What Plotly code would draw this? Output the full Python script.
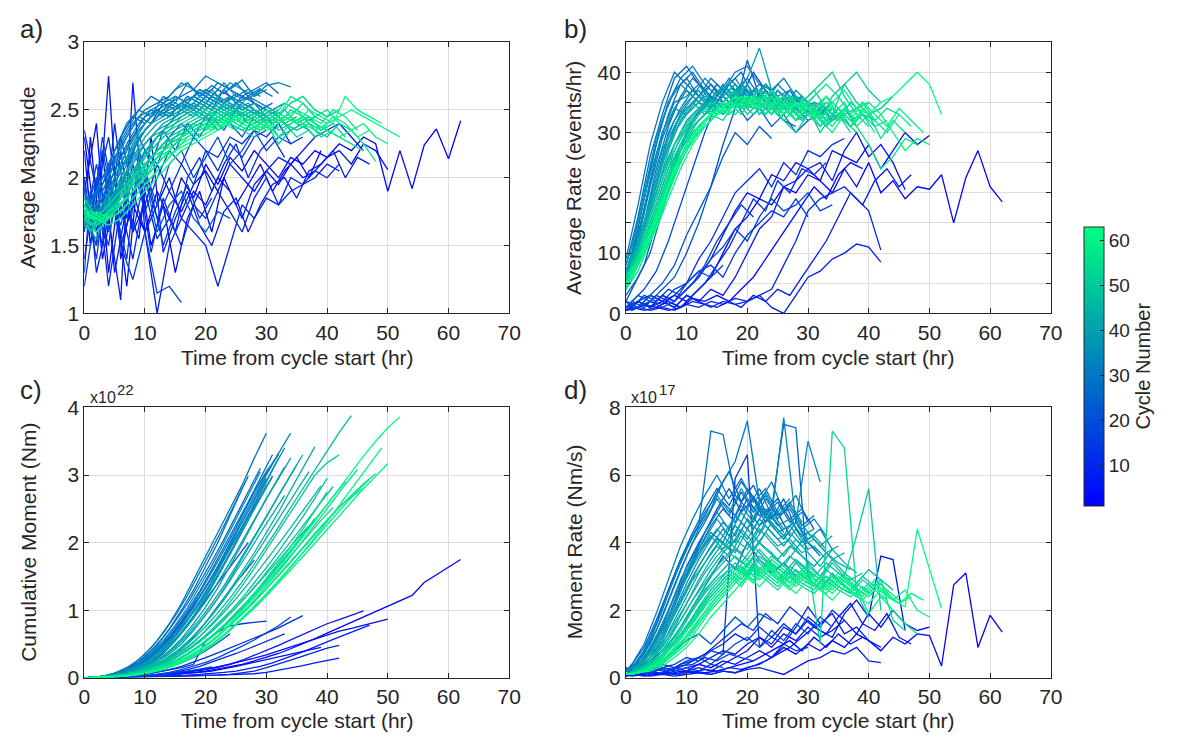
import plotly.graph_objects as go

# ---------------- data ----------------
# sample times (hr) for even-numbered and odd-numbered cycles
HOURS_EVEN = [0, 2, 4, 6, 8, 10, 12, 14, 16, 18, 20, 22, 24, 26, 28, 30, 32,
              34, 36, 38, 40, 42, 44, 46, 48, 50, 52, 54, 56, 58, 60, 62, 64]
HOURS_ODD = [0, 1, 3, 5, 7, 9, 11, 13, 15, 17, 19, 21, 23, 25, 27, 29, 31,
             33, 35, 37, 39, 41, 43, 45, 47, 49, 51, 53, 55, 57, 59, 61, 63]

CYCLES_EVEN = [2, 4, 6, 8, 10, 12, 14, 16, 18, 20, 22, 24,
               26, 28, 30, 32, 34, 36, 38, 40, 42, 44,
               46, 48, 50, 52, 54, 56, 58, 60, 63]
CYCLES_ODD = [3, 7, 11, 15, 19, 23,
              27, 29, 31, 33, 35, 37, 39, 41, 43, 45,
              47, 49, 51, 53, 55, 57, 59, 61]

# a) Average magnitude
MAG_EVEN = [
    [2.3,1.6,2.0,1.5,1.8,1.6,1.9,1.7,2.0,1.85,2.1,1.95,2.15,2.05,2.2,2.1,2.0,2.15,2.1,2.2,2.15,2.25,2.2,2.3,2.25,1.9,2.2,1.92,2.24,2.36,2.14,2.42],
    [1.9,2.4,1.3,2.0,1.6,1.8,2.1,1.9,1.75,1.95,2.05,1.9,2.1,2.0,1.9,2.05,1.95,2.1,2.0,2.05,2.15,2.2,2.1,2.25,2.2,2.06],
    [1.7,1.5,2.75,1.4,1.9,1.6,1.8,2.0,1.7,1.9,1.8,2.0,1.9,1.7,1.95,2.05,2.15,2.1,2.2,2.3,2.35,2.4,2.3,2.2],
    [2.2,1.3,1.7,1.1,2.7,1.6,1.0,1.5,1.7,1.6,1.5,1.2,1.5,1.8,1.7,1.85,1.8,1.9,1.95,2.0,2.1,2.05],
    [1.4,2.0,1.2,1.8,1.4,1.9,1.55,1.7,1.5,1.8,1.7,1.9,1.75,1.6,1.85,2.0,1.8,2.0,1.95,2.05,2.0,2.1],
    [2.35,1.9,2.3,1.7,2.1,1.75,2.0,2.2,2.1,2.3,2.2,2.15,2.3,2.25,2.35,2.3,2.4,2.25,2.3],
    [1.2,1.8,1.5,2.2,1.6,2.0,1.7,1.9,2.1,1.95,2.2,2.05,2.25,2.15,2.3,2.35],
    [1.9,1.4,2.1,1.5,1.25,1.6,1.15,1.2,1.08],
    [1.6,2.1,1.7,2.3,1.9,2.05,1.8,2.1,2.2,2.0,2.15,2.3,2.1,2.2,2.35,2.2,2.3,2.25],
    [1.8,1.5,1.9,1.65,2.0,2.2,2.1,2.3,2.4,2.3,2.45,2.35,2.4,2.3,2.45],
    [1.7,2.0,1.6,1.9,2.2,2.0,1.6,1.8,1.9,1.7,1.6,1.75,1.7],
    [1.75,1.9,2.1,2.3,2.45,2.4,2.5,2.45,2.55,2.5,2.6,2.55,2.5,2.6,2.55,2.5],
    [1.9,1.75,1.95,2.15,2.3,2.45,2.5,2.55,2.6,2.65,2.6,2.7,2.65,2.6,2.65,2.7,2.62],
    [1.85,1.7,1.9,2.1,2.3,2.4,2.5,2.45,2.55,2.6,2.55,2.65,2.6,2.55],
    [1.7,1.8,2.0,2.25,2.4,2.5,2.55,2.6,2.7,2.65,2.75,2.7,2.65,2.72,2.6,2.65],
    [1.8,1.65,1.85,2.05,2.2,2.35,2.45,2.5,2.55,2.5,2.6,2.55,2.6,2.5,2.55,2.5,2.45],
    [1.75,1.6,1.8,2.0,2.2,2.35,2.45,2.55,2.5,2.6,2.65,2.6,2.7,2.65,2.6,2.68,2.7,2.67],
    [1.9,1.7,1.85,2.05,2.25,2.4,2.5,2.45,2.55,2.6,2.55,2.5,2.6,2.55,2.5,2.45,2.5],
    [1.65,1.55,1.75,1.95,2.15,2.3,2.4,2.45,2.5,2.55,2.5,2.6,2.55,2.5,2.55,2.5],
    [1.8,1.7,1.8,1.95,2.1,2.25,2.35,2.4,2.5,2.45,2.55,2.5,2.45,2.55,2.5,2.45,2.4,2.45],
    [1.7,1.65,1.75,1.9,2.05,2.2,2.3,2.4,2.45,2.5,2.45,2.55,2.5,2.45,2.5,2.4,2.45,2.35,2.4],
    [1.85,1.7,1.75,1.85,2.0,2.15,2.3,2.35,2.45,2.5,2.45,2.5,2.55,2.45,2.5,2.4,2.45,2.35,2.4,2.45],
    [1.75,1.6,1.7,1.85,2.0,2.1,2.2,2.3,2.35,2.4,2.45,2.4,2.5,2.45,2.4,2.45,2.35,2.4,2.45,2.35,2.3,2.4,2.35],
    [1.8,1.7,1.75,1.8,1.9,2.05,2.15,2.25,2.3,2.35,2.4,2.45,2.4,2.35,2.4,2.45,2.3,2.35,2.4,2.3,2.35],
    [1.7,1.65,1.7,1.85,1.95,2.1,2.2,2.25,2.35,2.4,2.45,2.5,2.45,2.4,2.45,2.5,2.45,2.55,2.6,2.5,2.45,2.5],
    [1.75,1.6,1.7,1.8,1.95,2.05,2.15,2.25,2.3,2.4,2.35,2.45,2.4,2.35,2.3,2.4,2.25,2.35,2.4,2.3],
    [1.85,1.7,1.8,1.9,2.0,2.15,2.25,2.35,2.4,2.45,2.5,2.45,2.5,2.4,2.45,2.5,2.4,2.45,2.55,2.45,2.4],
    [1.65,1.6,1.7,1.8,1.9,2.0,2.15,2.2,2.3,2.35,2.4,2.35,2.45,2.4,2.35,2.45,2.4,2.5,2.45,2.4,2.35,2.3,2.25,2.2],
    [1.8,1.65,1.7,1.8,1.9,2.0,2.1,2.2,2.3,2.35,2.4,2.45,2.4,2.5,2.45,2.4,2.45,2.6,2.55,2.45,2.5,2.4,2.35,2.25,2.12],
    [1.7,1.75,1.7,1.75,1.85,1.95,2.05,2.15,2.25,2.3,2.35,2.4,2.45,2.4,2.35,2.4,2.3,2.4,2.45,2.4,2.35,2.3,2.35,2.4,2.3,2.25],
    [1.75,1.7,1.65,1.7,1.8,1.9,2.0,2.1,2.2,2.25,2.3,2.35,2.4,2.45,2.4,2.35,2.4,2.45,2.4,2.35,2.4,2.45,2.5,2.45,2.4,2.35,2.3],
]
MAG_ODD = [
    [1.6,2.3,1.4,1.9,1.2,2.1,1.5,1.8,1.3,1.7,1.9,1.6,2.0,1.8,1.95,2.1,1.9,2.05,2.15,2.0,2.2],
    [2.0,1.5,2.2,1.3,1.8,1.55,2.3,1.45,1.7,1.9,1.65,1.5,1.75,1.85,1.6,1.8,1.95,2.0,1.85,2.05,2.1,2.2,2.0,2.15,2.1],
    [1.3,1.9,1.5,2.4,1.7,2.0,1.45,1.85,1.6,2.0,2.15,1.9,2.1,2.25,2.0,2.2,2.3,2.15],
    [2.0,1.6,2.3,1.8,1.4,2.2,1.9,1.5,1.75,1.95,1.7,1.85],
    [1.9,1.7,2.2,1.8,2.05,2.3,2.1,2.35,2.2,2.4,2.3,2.45,2.35,2.5,2.4],
    [1.7,1.85,1.95,2.15,2.3,2.45,2.4,2.55,2.5,2.6,2.55,2.5,2.65,2.55,2.6,2.5,2.55],
    [1.85,1.8,1.95,2.2,2.4,2.5,2.6,2.55,2.65,2.7,2.6,2.68,2.62,2.7,2.6,2.66],
    [1.75,1.7,1.85,2.05,2.25,2.4,2.5,2.45,2.6,2.55,2.65,2.6,2.55,2.62,2.58,2.65,2.6],
    [1.9,1.8,2.0,2.2,2.35,2.5,2.45,2.6,2.55,2.7,2.6,2.65,2.55,2.6,2.58],
    [1.7,1.65,1.8,2.0,2.15,2.3,2.4,2.5,2.45,2.55,2.5,2.6,2.55,2.5,2.6,2.55,2.5,2.55],
    [1.8,1.7,1.9,2.1,2.3,2.45,2.5,2.55,2.6,2.55,2.65,2.6,2.7,2.6,2.65,2.6],
    [1.75,1.6,1.8,2.0,2.2,2.35,2.45,2.5,2.55,2.5,2.6,2.55,2.5,2.55,2.5,2.45,2.5],
    [1.85,1.7,1.8,1.95,2.15,2.3,2.4,2.45,2.5,2.55,2.5,2.45,2.55,2.5,2.45,2.5,2.4,2.45],
    [1.7,1.6,1.75,1.9,2.05,2.2,2.3,2.4,2.45,2.5,2.55,2.5,2.45,2.5,2.55,2.45,2.5,2.4,2.45],
    [1.8,1.7,1.75,1.9,2.05,2.2,2.3,2.35,2.45,2.5,2.45,2.55,2.5,2.45,2.5,2.45,2.4,2.45],
    [1.75,1.65,1.7,1.85,2.0,2.1,2.25,2.35,2.4,2.45,2.5,2.45,2.55,2.5,2.45,2.5,2.4,2.45,2.4,2.35],
    [1.8,1.7,1.75,1.85,1.95,2.1,2.2,2.3,2.35,2.4,2.45,2.4,2.45,2.5,2.45,2.4,2.45,2.4,2.35,2.4,2.35],
    [1.7,1.6,1.7,1.8,1.95,2.05,2.15,2.25,2.3,2.35,2.4,2.45,2.4,2.5,2.45,2.4,2.45,2.5,2.4,2.45,2.35,2.4],
    [1.75,1.7,1.72,1.8,1.9,2.0,2.15,2.25,2.3,2.35,2.4,2.45,2.4,2.35,2.45,2.4,2.35,2.4,2.3,2.35],
    [1.8,1.65,1.7,1.8,1.9,2.05,2.15,2.2,2.3,2.35,2.4,2.45,2.5,2.45,2.4,2.45,2.5,2.45,2.4,2.45,2.35,2.4,2.3],
    [1.7,1.65,1.7,1.75,1.85,1.95,2.1,2.2,2.25,2.35,2.4,2.35,2.45,2.4,2.35,2.4,2.45,2.4,2.35,2.4,2.3,2.35],
    [1.75,1.7,1.68,1.75,1.85,1.95,2.05,2.15,2.25,2.3,2.35,2.4,2.45,2.4,2.35,2.4,2.45,2.55,2.5,2.45,2.4,2.5,2.45,2.35],
    [1.8,1.7,1.7,1.78,1.85,1.95,2.05,2.15,2.2,2.3,2.35,2.4,2.38,2.45,2.4,2.35,2.4,2.45,2.5,2.4,2.35,2.45,2.4,2.3,2.35],
    [1.7,1.75,1.7,1.72,1.8,1.9,2.0,2.1,2.2,2.25,2.3,2.35,2.4,2.45,2.4,2.35,2.4,2.45,2.4,2.5,2.45,2.4,2.6,2.5,2.45,2.4],
]

# b) Average rate (events/hr)
RATE_EVEN = [
    [0.5,1,2,1.5,3,2,4,6,10,14,16,19,18,21,20,23,22,20,24,21,25,20,22,19,21,20.6,23,15,22.5,27,21,18.5],
    [1,2,1,3,2,4,6,9,13,17,20,19,23,22,25,24,22,27,26,25,28,24,27,30,28,29.5],
    [2,1,3,2,1,3,2,4,3,6,10,14,16,21,22,24,25,22,27,30,26,28,25,20.5],
    [0.5,1,0.5,1,0.5,1.5,1,2,1.5,2.5,2,3,1,0,3,6,7,9,10,11.5,11,8.5],
    [1,2,1,2,1,3,2,1,2,1.5,2,3,4,8,12,17,19,20,21,19,17,10.5],
    [0.5,2,1,3,2,5,9,12,16,20,22,24,21,25,23,27,26,28,29],
    [1,2,1,2,3,5,7,8,6,10,13,15,17,16,19,16],
    [1,2,3,2,4,5,7,6,8],
    [0.5,1,2,1,2,4,6,9,11,14,12,16,19,17,18,20,17,18],
    [1,3,2,4,6,10,15,21,28,34,42,36,34,32,31],
    [2,1,3,5,8,13,17,21,26,30,28,31,29],
    [3,6,10,17,24,30,33,36,34,35,32,34,31,33,30,32],
    [8,16,26,33,39,41,38,36,35,37,34,36,35,33,35,34,32],
    [6,14,24,32,37,39,36,38,35,37,39,36,34,35],
    [9,18,28,35,40,38,36,39,37,40,41,38,37,39,36,35],
    [5,12,21,29,34,37,35,38,36,34,37,35,33,36,34,32,33],
    [7,13,22,30,35,36,38,35,37,39,36,38,36,34,37,35,33,34],
    [6,11,19,27,32,35,37,34,36,38,35,37,34,36,33,35,34],
    [8,15,23,30,34,33,36,34,38,35,37,33,35,34,32,33],
    [5,10,18,25,31,34,36,35,38,36,39,44,37,35,36,34,33,35],
    [7,12,18,25,30,33,35,34,36,38,35,37,36,34,35,33,34,32,33],
    [6,11,17,23,28,32,34,35,33,36,38,35,37,34,36,33,35,32,34,31],
    [5,9,15,21,27,31,33,35,34,36,35,37,34,36,33,35,32,36,38,35,33,34,36],
    [4,8,13,19,25,29,32,34,33,35,36,34,36,33,35,34,32,35,33,34,35],
    [6,10,16,22,28,31,34,33,35,37,34,36,35,33,36,34,30,33,38,40,37,35],
    [5,8,14,20,26,30,33,35,34,36,33,35,34,32,30,33,31,34,32,30],
    [4,9,14,20,25,29,31,33,35,34,36,33,35,32,34,36,38,40,36,33,31],
    [5,8,12,18,23,28,31,33,32,35,34,36,33,35,32,34,31,33,35,31,33,29,32,30],
    [4,7,12,17,23,27,30,33,34,33,35,37,34,36,33,35,32,30,33,31,28,24,26,29,28],
    [6,9,14,19,24,28,31,33,35,34,36,35,37,34,32,35,33,31,34,32,35,33,30,27,29,28],
    [5,8,13,18,24,28,31,33,34,36,35,34,36,33,35,34,32,35,37,34,33,35,36,38,40,38,33],
]
RATE_ODD = [
    [1,0.5,1.5,1,2,1,2.5,2,3,2,4,6,9,12,15,18,21,19,23,25,24],
    [0.5,1,0.5,1,0.5,1,2,1.5,1,2,1,3,2,4,3,6,9,12,16,20,18,22,24,21,23],
    [1,2,1,3,2,1,3,5,8,11,15,19,17,22,20,24,23,25],
    [2,1,3,2,4,3,5,8,12,15,18,16],
    [1,2,4,7,12,18,24,30,35,38,36,40,37,35,36],
    [2,4,8,15,22,28,32,35,38,36,34,37,35,33,36,34,35],
    [6,9,17,26,33,38,40,37,35,38,36,34,37,35,34,36],
    [5,8,15,24,31,36,39,37,35,38,40,36,38,35,37,34,36],
    [7,10,19,28,35,39,41,38,36,39,37,35,38,36,37],
    [5,7,14,22,30,34,37,35,38,36,34,37,35,38,36,34,33,35],
    [8,11,20,29,35,38,36,39,37,35,38,36,34,37,35,36],
    [5,8,14,21,28,33,36,34,37,35,38,36,34,37,35,33,34],
    [6,9,15,22,29,33,35,37,34,36,38,35,37,34,36,33,35,34],
    [4,7,13,20,27,32,35,33,36,38,35,37,36,34,37,35,33,34,32],
    [6,9,15,22,28,32,34,36,35,37,34,36,38,35,33,36,34,33],
    [5,8,14,20,26,30,33,35,34,36,37,35,34,36,33,35,34,32,33,31],
    [5,7,12,18,24,28,31,33,35,34,36,35,33,36,34,35,33,31,34,32,33],
    [4,6,11,17,23,28,31,33,34,36,35,33,35,34,36,33,35,32,34,31,33,32],
    [6,8,13,19,25,29,32,34,33,35,34,36,33,35,34,32,34,31,33,30],
    [4,7,12,17,22,27,30,32,34,35,33,36,34,35,33,35,37,34,32,35,33,31,32],
    [5,7,11,16,22,26,30,32,34,33,35,34,36,33,35,32,34,36,33,31,33,30],
    [4,6,10,15,20,25,29,31,33,34,35,34,36,33,35,34,36,38,36,33,35,32,34,33],
    [5,7,11,16,21,26,29,32,33,35,34,36,35,33,36,34,32,35,33,31,34,32,30,33,31],
    [4,6,10,14,19,24,28,31,33,34,36,35,33,36,34,35,33,36,34,32,35,33,31,34,32,30],
]

# c) Cumulative moment (x10^22 Nm)
CUM_EVEN = [
    [0,0.005,0.01,0.015,0.02,0.03,0.04,0.05,0.06,0.08,0.1,0.13,0.16,0.2,0.25,0.3,0.36,0.43,0.5,0.58,0.66,0.74,0.82,0.9,0.98,1.06,1.14,1.22,1.41,1.52,1.63,1.75],
    [0,0.005,0.01,0.015,0.02,0.03,0.04,0.06,0.08,0.1,0.13,0.16,0.2,0.24,0.29,0.34,0.4,0.46,0.52,0.58,0.64,0.69,0.73,0.78,0.83,0.87],
    [0,0.005,0.01,0.015,0.02,0.03,0.04,0.05,0.07,0.09,0.12,0.16,0.2,0.26,0.33,0.4,0.48,0.56,0.64,0.72,0.8,0.86,0.93,0.99],
    [0,0.002,0.004,0.006,0.01,0.013,0.016,0.02,0.025,0.03,0.035,0.04,0.045,0.05,0.06,0.08,0.11,0.14,0.18,0.22,0.26,0.29],
    [0,0.003,0.006,0.01,0.013,0.016,0.02,0.023,0.027,0.03,0.035,0.04,0.05,0.07,0.1,0.15,0.2,0.26,0.32,0.38,0.44,0.48],
    [0,0.005,0.01,0.02,0.03,0.05,0.08,0.12,0.17,0.23,0.3,0.37,0.44,0.51,0.58,0.66,0.74,0.83,0.92],
    [0,0.005,0.01,0.02,0.03,0.05,0.08,0.11,0.15,0.2,0.55,0.68,0.77,0.8,0.82,0.84],
    [0,0.003,0.006,0.01,0.015,0.02,0.03,0.04,0.05],
    [0,0.003,0.006,0.01,0.02,0.03,0.05,0.08,0.12,0.17,0.23,0.3,0.38,0.47,0.56,0.66,0.77,0.9],
    [0,0.005,0.015,0.03,0.06,0.11,0.18,0.28,0.42,0.6,0.82,1.06,1.3,1.52,1.74],
    [0,0.005,0.01,0.02,0.04,0.07,0.11,0.16,0.22,0.3,0.4,0.52,0.65],
    [0,0.01,0.03,0.07,0.14,0.25,0.4,0.58,0.8,1.05,1.35,1.65,1.98,2.3,2.62,2.95],
    [0,0.01,0.03,0.07,0.14,0.25,0.4,0.6,0.84,1.1,1.4,1.72,2.05,2.4,2.75,3.05,3.3],
    [0,0.01,0.04,0.09,0.17,0.3,0.48,0.72,1.0,1.3,1.65,2.0,2.4,2.8],
    [0,0.01,0.04,0.1,0.2,0.35,0.55,0.8,1.1,1.45,1.8,2.15,2.5,2.85,3.25,3.62],
    [0,0.01,0.03,0.07,0.14,0.24,0.38,0.56,0.78,1.04,1.33,1.65,2.0,2.35,2.7,3.02,3.32],
    [0,0.01,0.03,0.06,0.12,0.21,0.33,0.5,0.72,0.98,1.27,1.6,1.95,2.3,2.65,3.0,3.32,3.62],
    [0,0.01,0.02,0.05,0.1,0.18,0.3,0.46,0.66,0.9,1.18,1.5,1.85,2.2,2.55,2.9,3.25],
    [0,0.01,0.03,0.06,0.12,0.2,0.32,0.48,0.68,0.92,1.2,1.5,1.82,2.15,2.5,2.85],
    [0,0.01,0.02,0.05,0.09,0.16,0.26,0.4,0.58,0.8,1.05,1.33,1.65,1.98,2.32,2.65,2.95,3.25],
    [0,0.01,0.02,0.04,0.08,0.14,0.23,0.35,0.5,0.7,0.93,1.18,1.46,1.76,2.07,2.38,2.7,3.0,3.3],
    [0,0.01,0.02,0.04,0.07,0.12,0.2,0.31,0.45,0.62,0.82,1.05,1.3,1.57,1.85,2.15,2.45,2.78,3.1,3.42],
    [0,0.01,0.02,0.04,0.07,0.12,0.19,0.29,0.42,0.58,0.76,0.96,1.18,1.42,1.68,1.95,2.23,2.52,2.8,3.08,3.36,3.63,3.88],
    [0,0.005,0.015,0.03,0.06,0.1,0.16,0.24,0.35,0.48,0.63,0.8,0.98,1.18,1.4,1.63,1.87,2.12,2.38,2.66,2.95],
    [0,0.005,0.015,0.03,0.06,0.1,0.16,0.25,0.37,0.52,0.7,0.9,1.12,1.36,1.62,1.9,2.18,2.46,2.74,3.0,3.18,3.3],
    [0,0.005,0.01,0.025,0.05,0.08,0.13,0.2,0.29,0.4,0.53,0.68,0.85,1.03,1.22,1.43,1.65,1.88,2.12,2.36],
    [0,0.005,0.01,0.025,0.05,0.09,0.14,0.21,0.3,0.41,0.54,0.69,0.86,1.05,1.25,1.47,1.7,1.94,2.2,2.47,2.75],
    [0,0.005,0.01,0.02,0.04,0.07,0.12,0.18,0.26,0.36,0.48,0.62,0.78,0.95,1.13,1.32,1.52,1.72,1.93,2.14,2.34,2.53,2.68,2.8],
    [0,0.005,0.01,0.02,0.04,0.07,0.11,0.17,0.25,0.35,0.47,0.61,0.77,0.94,1.12,1.31,1.51,1.71,1.92,2.12,2.32,2.52,2.7,2.87,3.02],
    [0,0.005,0.01,0.02,0.035,0.06,0.1,0.15,0.22,0.31,0.42,0.55,0.7,0.86,1.03,1.21,1.4,1.59,1.79,1.99,2.19,2.4,2.6,2.8,2.98,3.17],
    [0,0.005,0.01,0.02,0.04,0.07,0.11,0.17,0.25,0.35,0.48,0.63,0.8,0.99,1.19,1.4,1.62,1.85,2.08,2.32,2.56,2.8,3.04,3.28,3.5,3.7,3.86],
]
CUM_ODD = [
    [0,0.002,0.005,0.01,0.015,0.02,0.03,0.04,0.05,0.06,0.08,0.1,0.13,0.17,0.21,0.25,0.29,0.33,0.37,0.41,0.45],
    [0,0.002,0.005,0.008,0.01,0.015,0.02,0.025,0.03,0.04,0.05,0.06,0.08,0.1,0.13,0.17,0.22,0.28,0.35,0.42,0.5,0.57,0.64,0.71,0.78],
    [0,0.003,0.006,0.01,0.015,0.02,0.03,0.05,0.08,0.12,0.17,0.23,0.29,0.36,0.43,0.5,0.58,0.65],
    [0,0.003,0.006,0.01,0.015,0.02,0.03,0.05,0.07,0.1,0.13,0.16],
    [0,0.005,0.01,0.03,0.06,0.12,0.22,0.36,0.55,0.78,1.02,1.28,1.52,1.76,2.0],
    [0,0.005,0.02,0.05,0.11,0.2,0.33,0.5,0.7,0.94,1.2,1.48,1.78,2.08,2.4,2.7,2.98],
    [0,0.005,0.02,0.06,0.13,0.24,0.4,0.6,0.84,1.1,1.4,1.72,2.05,2.4,2.75,3.1],
    [0,0.005,0.02,0.05,0.11,0.21,0.35,0.53,0.75,1.0,1.28,1.6,1.93,2.27,2.6,2.95,3.3],
    [0,0.005,0.025,0.07,0.15,0.27,0.44,0.66,0.92,1.22,1.55,1.9,2.25,2.62,2.98],
    [0,0.005,0.02,0.05,0.1,0.18,0.3,0.45,0.64,0.87,1.13,1.42,1.74,2.07,2.41,2.75,3.08,3.4],
    [0,0.005,0.02,0.06,0.12,0.22,0.36,0.55,0.78,1.04,1.34,1.66,2.0,2.35,2.7,3.05],
    [0,0.005,0.015,0.04,0.09,0.17,0.28,0.43,0.62,0.85,1.1,1.38,1.68,2.0,2.33,2.65,2.98],
    [0,0.005,0.015,0.04,0.08,0.15,0.25,0.38,0.55,0.76,1.0,1.26,1.55,1.86,2.18,2.5,2.82,3.12],
    [0,0.005,0.015,0.035,0.07,0.13,0.21,0.32,0.47,0.65,0.86,1.1,1.36,1.64,1.94,2.24,2.55,2.85,3.15],
    [0,0.005,0.015,0.035,0.07,0.12,0.2,0.31,0.45,0.62,0.82,1.05,1.3,1.57,1.85,2.14,2.42,2.7],
    [0,0.005,0.012,0.03,0.06,0.1,0.17,0.26,0.38,0.53,0.71,0.92,1.15,1.4,1.66,1.93,2.21,2.5,2.78,3.05],
    [0,0.004,0.01,0.025,0.05,0.09,0.15,0.23,0.33,0.46,0.61,0.78,0.97,1.17,1.39,1.62,1.86,2.1,2.35,2.6,2.84],
    [0,0.004,0.01,0.022,0.045,0.08,0.13,0.2,0.29,0.4,0.53,0.68,0.85,1.04,1.24,1.45,1.67,1.9,2.13,2.37,2.6,2.83],
    [0,0.004,0.01,0.025,0.05,0.09,0.14,0.21,0.3,0.41,0.54,0.69,0.86,1.04,1.23,1.43,1.63,1.84,2.05,2.25],
    [0,0.004,0.01,0.02,0.04,0.07,0.12,0.18,0.26,0.36,0.48,0.62,0.78,0.96,1.15,1.35,1.56,1.78,2.0,2.23,2.46,2.68,2.9],
    [0,0.004,0.01,0.02,0.04,0.07,0.11,0.17,0.25,0.35,0.47,0.6,0.75,0.92,1.1,1.29,1.49,1.7,1.91,2.12,2.33,2.52],
    [0,0.004,0.008,0.018,0.035,0.06,0.1,0.15,0.22,0.31,0.42,0.55,0.7,0.87,1.05,1.25,1.46,1.68,1.91,2.14,2.38,2.62,2.86,3.08],
    [0,0.004,0.008,0.016,0.03,0.055,0.09,0.14,0.2,0.28,0.38,0.5,0.64,0.8,0.97,1.15,1.34,1.54,1.74,1.95,2.16,2.37,2.57,2.76,2.94],
    [0,0.004,0.008,0.016,0.03,0.05,0.085,0.13,0.19,0.27,0.37,0.49,0.63,0.79,0.96,1.14,1.33,1.53,1.74,1.96,2.19,2.43,2.67,2.92,3.16,3.4],
]

# d) Moment rate (x10^17 Nm/s)
MRATE_EVEN = [
    [0.3,0.1,0.2,0.1,0.3,0.2,0.4,0.3,0.5,0.4,0.6,0.8,0.6,0.9,0.7,1.0,0.8,1.1,0.9,1.3,1.1,0.8,1.2,1.0,1.3,1.25,0.35,2.75,3.1,0.9,1.85,1.35],
    [0.1,0.1,0.2,0.1,0.2,0.3,0.4,0.6,0.8,0.7,1.0,1.2,0.9,1.3,1.1,1.5,1.2,1.4,1.7,1.3,1.9,1.5,2.0,1.6,1.4,1.5],
    [0.2,0.1,0.3,0.2,0.1,0.2,0.3,0.2,0.4,0.6,0.8,1.2,1.0,1.5,1.3,1.7,1.4,1.2,1.9,2.3,1.8,3.6,3.5,1.4],
    [0.05,0.1,0.05,0.1,0.05,0.1,0.15,0.1,0.2,0.15,0.25,0.3,0.2,0.1,0.3,0.5,0.6,0.8,0.7,0.9,0.5,0.45],
    [0.1,0.2,0.1,0.15,0.1,0.2,0.15,0.1,0.2,0.15,0.3,0.4,0.6,1.0,1.5,2.1,1.6,1.9,1.3,1.5,1.1,0.9],
    [0.1,0.2,0.15,0.3,0.25,0.4,0.6,0.8,1.0,1.3,1.1,1.5,1.2,1.6,1.3,1.8,1.5,2.0,1.7],
    [0.2,0.3,0.2,0.4,0.3,0.5,0.6,0.4,0.7,5.9,6.6,0.9,1.2,1.0,0.8,0.9],
    [0.1,0.2,0.1,0.3,0.2,0.3,0.2,0.4,0.3],
    [0.1,0.15,0.2,0.3,0.4,0.6,0.5,0.8,0.7,1.0,1.2,0.9,1.4,1.1,1.6,1.3,1.8,1.5],
    [0.2,0.3,0.5,0.8,1.2,1.8,2.4,3.0,3.6,3.2,4.0,3.5,3.1,3.4,3.0],
    [0.1,0.2,0.3,0.5,0.8,1.1,1.3,1.0,1.4,1.8,1.5,1.9,1.7],
    [0.2,0.4,0.8,1.4,2.2,3.0,3.8,4.5,5.0,4.6,5.3,4.8,5.0,7.5,7.4,3.0],
    [0.1,0.3,0.8,1.5,2.4,3.3,4.0,4.6,5.2,4.8,5.6,5.1,4.7,5.3,4.4,4.0,3.6],
    [0.2,0.5,1.1,2.0,3.0,3.8,4.5,7.3,7.2,5.4,5.0,5.6,4.8,4.3],
    [0.2,0.5,1.0,1.8,2.7,3.6,4.4,5.0,5.8,6.4,7.6,5.2,5.8,4.9,5.4,4.6],
    [0.1,0.3,0.7,1.3,2.1,3.0,3.7,4.3,4.0,4.8,4.4,5.0,4.5,4.1,4.6,4.0,3.7],
    [0.1,0.3,0.6,1.2,2.0,2.8,3.5,4.1,4.6,4.2,5.0,4.5,4.8,7.7,4.6,4.1,4.4,3.8],
    [0.1,0.2,0.6,1.1,1.9,2.6,3.3,3.9,4.4,4.0,4.7,4.3,4.9,4.4,4.6,7.0,5.8],
    [0.2,0.4,0.9,1.6,2.4,3.1,3.7,4.2,3.8,4.5,4.1,4.7,4.3,3.9,4.4,3.8],
    [0.1,0.2,0.5,1.0,1.7,2.4,3.1,3.7,4.2,4.8,4.4,5.1,4.6,4.2,4.8,4.3,3.9,4.2],
    [0.1,0.2,0.5,0.9,1.5,2.2,2.9,3.5,4.0,3.7,4.4,4.0,4.6,4.2,3.8,4.3,3.9,3.5,3.7],
    [0.1,0.2,0.4,0.8,1.4,2.0,2.6,3.2,3.7,4.1,3.8,4.4,4.0,3.6,4.1,3.7,3.3,3.8,3.4,3.1],
    [0.1,0.2,0.4,0.7,1.2,1.8,2.4,3.0,3.4,3.8,3.5,4.0,3.7,3.3,3.8,3.4,3.0,3.5,3.1,2.8,3.2,2.9,2.6],
    [0.1,0.15,0.3,0.6,1.0,1.5,2.1,2.6,3.0,3.4,3.1,3.6,3.3,2.9,3.4,3.0,2.6,3.1,2.7,2.4,2.8],
    [0.1,0.2,0.4,0.7,1.1,1.7,2.3,2.8,3.2,3.6,3.3,3.8,3.4,3.1,3.5,3.2,2.9,3.4,3.0,4.2,5.6,2.0],
    [0.1,0.2,0.3,0.6,1.0,1.5,2.0,2.5,2.9,3.3,3.0,3.5,3.2,2.8,3.2,2.9,2.6,3.0,2.7,2.4],
    [0.1,0.15,0.3,0.5,0.9,1.4,1.9,2.4,2.8,3.2,3.5,3.2,3.6,3.3,3.0,3.4,1.0,7.3,6.8,2.5,1.8],
    [0.1,0.15,0.25,0.5,0.8,1.2,1.7,2.2,2.6,3.0,3.4,3.1,3.5,3.2,2.9,3.3,3.0,2.7,3.1,2.8,2.5,2.9,1.7,1.4],
    [0.1,0.15,0.25,0.45,0.75,1.1,1.6,2.1,2.5,2.9,3.3,3.0,3.4,3.1,2.8,3.2,2.9,2.6,3.0,2.7,1.9,2.4,2.0,1.6,1.3],
    [0.1,0.15,0.25,0.4,0.7,1.0,1.5,2.0,2.4,2.8,3.2,2.9,3.3,3.0,2.7,3.1,2.8,2.5,2.9,2.6,2.4,2.8,2.3,2.6,2.0,1.8],
    [0.1,0.15,0.2,0.35,0.6,0.9,1.3,1.8,2.2,2.6,3.0,2.7,3.1,2.8,2.5,2.9,2.6,2.3,2.7,2.4,2.2,2.6,2.3,2.1,4.4,3.2,2.05],
]
MRATE_ODD = [
    [0.1,0.05,0.1,0.15,0.1,0.2,0.15,0.25,0.2,0.3,0.4,0.5,0.7,0.9,1.1,0.8,1.2,0.9,1.3,1.0,1.2],
    [0.05,0.1,0.05,0.1,0.15,0.1,0.2,0.15,0.2,0.3,0.25,0.35,0.5,0.7,0.9,1.2,1.5,1.3,1.8,2.2,1.6,1.4,1.9,1.2,1.0],
    [0.1,0.2,0.15,0.3,0.2,0.4,0.5,0.7,1.0,1.3,1.6,1.4,1.9,1.6,2.1,1.8,1.5,1.7],
    [0.1,0.15,0.2,0.3,0.2,0.35,0.4,0.6,0.5,0.7,0.6,0.5],
    [0.2,0.3,0.6,1.1,1.8,2.7,3.5,4.3,5.0,5.6,4.9,5.3,4.6,4.9,4.2],
    [0.2,0.4,0.9,1.7,2.6,3.5,4.2,4.8,5.5,6.1,5.2,5.7,4.9,5.3,4.7,5.0,4.4],
    [0.2,0.3,0.8,1.6,2.6,3.5,4.3,5.0,5.6,5.1,5.8,5.3,4.8,5.2,4.6,4.9],
    [0.1,0.3,0.7,1.4,2.3,3.2,4.0,4.6,5.3,4.8,5.5,4.9,5.4,4.7,5.1,4.5,4.8],
    [0.2,0.4,1.0,1.9,2.9,3.9,4.7,5.4,6.0,5.3,5.9,5.2,5.6,4.9,5.3],
    [0.1,0.2,0.6,1.2,2.0,2.9,3.6,4.3,4.9,4.4,5.1,4.6,5.3,4.8,5.0,4.4,4.7,4.2],
    [0.2,0.3,0.8,1.6,2.5,3.4,4.2,4.9,5.4,4.9,5.6,5.0,5.5,4.8,5.2,4.6],
    [0.1,0.2,0.6,1.2,2.0,2.8,3.5,4.1,4.7,4.2,4.9,4.4,5.0,4.5,4.7,4.2,4.4],
    [0.1,0.2,0.5,1.1,1.8,2.6,3.3,3.9,4.4,4.0,4.6,4.2,4.8,4.3,4.5,4.0,4.2,3.8],
    [0.1,0.2,0.5,1.0,1.6,2.3,3.0,3.6,4.1,3.8,4.4,4.0,4.5,4.1,4.3,3.9,4.1,3.7,3.9],
    [0.1,0.2,0.5,0.9,1.5,2.2,2.9,3.4,3.9,3.6,4.2,3.8,4.3,3.9,4.1,3.7,3.9,3.5],
    [0.1,0.15,0.4,0.8,1.3,1.9,2.5,3.1,3.6,4.0,3.7,4.2,3.8,3.5,3.9,3.6,3.3,3.7,3.4,3.2],
    [0.1,0.15,0.35,0.7,1.2,1.7,2.3,2.8,3.3,3.7,3.4,3.9,3.5,3.2,3.6,3.3,3.0,3.4,3.1,2.9,3.1],
    [0.1,0.15,0.3,0.6,1.0,1.5,2.0,2.6,3.0,3.4,3.1,3.6,3.2,2.9,3.3,3.0,2.8,3.2,2.9,2.6,3.0,2.7],
    [0.1,0.15,0.3,0.6,1.0,1.5,2.0,2.5,2.9,3.2,2.9,3.4,3.1,2.8,3.2,2.9,2.7,3.0,2.7,2.5],
    [0.1,0.12,0.25,0.5,0.9,1.3,1.8,2.3,2.7,3.1,2.8,3.3,3.0,2.7,3.1,2.8,2.6,3.0,2.7,2.5,2.9,2.6,2.3],
    [0.1,0.12,0.25,0.5,0.85,1.25,1.7,2.2,2.6,3.0,2.7,3.2,2.9,2.6,3.0,2.7,2.5,2.9,2.6,2.4,2.7,2.4],
    [0.1,0.1,0.2,0.45,0.8,1.2,1.6,2.1,2.5,2.9,3.3,3.0,3.4,3.1,2.8,3.2,2.9,2.7,3.1,2.8,2.5,2.9,2.6,2.3],
    [0.1,0.1,0.2,0.4,0.7,1.05,1.5,1.95,2.4,2.8,3.2,2.9,3.3,3.0,2.7,3.1,2.8,2.6,3.0,2.7,2.4,2.8,2.5,2.2,2.4],
    [0.1,0.1,0.2,0.4,0.65,1.0,1.4,1.85,2.3,2.7,3.1,2.8,3.2,2.9,2.6,3.0,2.7,2.5,2.9,2.6,2.3,2.7,2.4,2.2,2.5,2.3],
]

X_TICKS = [0, 10, 20, 30, 40, 50, 60, 70]
MAG_TICKS = [1, 1.5, 2, 2.5, 3]
RATE_TICKS = [0, 5, 10, 15, 20, 25, 30, 35, 40, 45]
RATE_LABELS = ["0", "", "10", "", "20", "", "30", "", "40", ""]
CUM_TICKS = [0, 1, 2, 3, 4]
MRATE_TICKS = [0, 2, 4, 6, 8]
CBAR_TICKS = [10, 20, 30, 40, 50, 60]
CMIN, CMAX = 1, 63

# ---------------- styling ----------------
W, H = 1180, 746
FONT = "Liberation Sans, Arial, Helvetica, sans-serif"
INK = "#262626"
COLORSCALE = [[0, "rgb(0,0,255)"], [1, "rgb(0,255,128)"]]


def winter(c):
    t = (c - CMIN) / (CMAX - CMIN)
    return f"rgb(0,{round(255 * t)},{round(255 * (1 - 0.5 * t))})"


def px(x):
    return x / W


def py(y):
    return 1 - y / H


XA = [px(79.5), px(511)]
XB = [px(629.5), px(1061)]
YT = [py(311), py(31)]
YB = [py(687), py(408)]

fig = go.Figure()

panels = [("x", "y", MAG_EVEN, MAG_ODD), ("x2", "y2", RATE_EVEN, RATE_ODD),
          ("x3", "y3", CUM_EVEN, CUM_ODD), ("x4", "y4", MRATE_EVEN, MRATE_ODD)]
for xa, ya, even, odd in panels:
    runs = [(c, HOURS_EVEN, v) for c, v in zip(CYCLES_EVEN, even)]
    runs += [(c, HOURS_ODD, v) for c, v in zip(CYCLES_ODD, odd)]
    runs.sort(key=lambda r: r[0])
    for cyc, hours, vals in runs:
        fig.add_trace(go.Scatter(
            x=hours[:len(vals)], y=vals, mode="lines",
            line=dict(color=winter(cyc), width=1.3),
            xaxis=xa, yaxis=ya, showlegend=False,
            name=f"Cycle {cyc}", hoverinfo="name+x+y"))

# colour bar carrier (point outside the visible range)
fig.add_trace(go.Scatter(
    x=[-10], y=[-10], mode="markers", xaxis="x", yaxis="y",
    marker=dict(size=1, color=[CMIN], cmin=CMIN, cmax=CMAX, colorscale=COLORSCALE,
                showscale=True,
                colorbar=dict(
                    x=px(1095), xanchor="left", xpad=0, ypad=0,
                    y=py(365.5), yanchor="middle",
                    thickness=20, thicknessmode="pixels",
                    len=279, lenmode="pixels",
                    tickvals=CBAR_TICKS, ticks="inside", ticklen=4, tickcolor=INK,
                    tickfont=dict(family=FONT, size=19, color=INK),
                    outlinecolor=INK, outlinewidth=1,
                    title=dict(text="Cycle Number", side="right",
                               font=dict(family=FONT, size=20, color=INK)))),
    showlegend=False, hoverinfo="skip"))

axis_common = dict(showline=True, linecolor=INK, linewidth=1, mirror="ticks",
                   ticks="inside", ticklen=5, tickcolor=INK, showgrid=True,
                   gridcolor="#dcdcdc", gridwidth=1, zeroline=False,
                   tickfont=dict(family=FONT, size=21, color=INK))


def xaxis(domain, anchor):
    return dict(axis_common, domain=domain, anchor=anchor, range=[0, 70],
                tickvals=X_TICKS)


fig.update_layout(
    width=W, height=H, margin=dict(l=0, r=0, t=0, b=0),
    paper_bgcolor="white", plot_bgcolor="white",
    font=dict(family=FONT, color=INK),
    xaxis=xaxis(XA, "y"), xaxis2=xaxis(XB, "y2"),
    xaxis3=xaxis(XA, "y3"), xaxis4=xaxis(XB, "y4"),
    yaxis=dict(axis_common, domain=YT, anchor="x", range=[1, 3], tickvals=MAG_TICKS),
    yaxis2=dict(axis_common, domain=YT, anchor="x2", range=[0, 45],
                tickvals=RATE_TICKS, ticktext=RATE_LABELS),
    yaxis3=dict(axis_common, domain=YB, anchor="x3", range=[0, 4], tickvals=CUM_TICKS),
    yaxis4=dict(axis_common, domain=YB, anchor="x4", range=[0, 8], tickvals=MRATE_TICKS),
)

ann = []


def text(x, y, s, size=21, angle=0, xanchor="center", yanchor="middle"):
    ann.append(dict(x=px(x), y=py(y), xref="paper", yref="paper", text=s,
                    showarrow=False, textangle=angle, xanchor=xanchor, yanchor=yanchor,
                    font=dict(family=FONT, size=size, color=INK)))


# x-axis titles
for cx in (296, 845):
    text(cx, 356, "Time from cycle start (hr)")
    text(cx, 731, "Time from cycle start (hr)")
# y-axis titles
text(22, 171, "Average Magnitude", angle=-90)
text(577, 171, "Average Rate (events/hr)", angle=-90)
text(22, 547, "Cumulative Moment (Nm)", angle=-90)
text(577, 547, "Moment Rate (Nm/s)", angle=-90)
# panel letters
text(12, 18, "a)", size=26, xanchor="left")
text(565, 18, "b)", size=26, xanchor="left")
text(12, 390, "c)", size=26, xanchor="left")
text(565, 390, "d)", size=26, xanchor="left")
# exponent labels
text(83, 398, "x10", size=16, xanchor="left")
text(111, 389, "22", size=15, xanchor="left")
text(633, 398, "x10", size=16, xanchor="left")
text(661, 389, "17", size=15, xanchor="left")

fig.update_layout(annotations=ann)
fig.write_html("out.html")
